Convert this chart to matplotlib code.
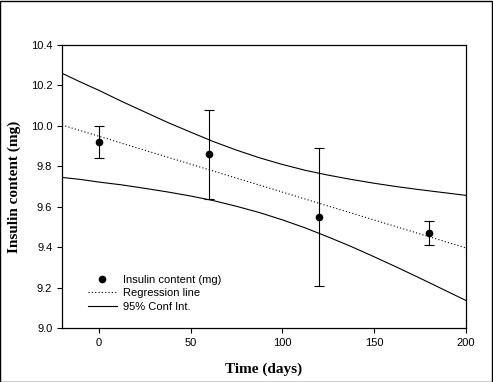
import matplotlib.pyplot as plt
from matplotlib.patches import Rectangle

# measured points (mean with error)
days = [0, 60, 120, 180]
insulin = [9.92, 9.86, 9.55, 9.47]
err_lo = [0.08, 0.22, 0.34, 0.06]
err_hi = [0.08, 0.22, 0.34, 0.06]

# regression line end points
reg_x = [-20, 200]
reg_y = [10.004, 9.396]

# 95% confidence band
ci_x = [-20, -10, 0, 12.5, 25, 37.5, 50, 62.5, 75, 87.5, 100, 112.5, 125,
        137.5, 150, 162.5, 175, 187.5, 200]
ci_upper = [10.26, 10.217, 10.176, 10.121, 10.069, 10.017, 9.969, 9.922, 9.880,
            9.842, 9.809, 9.780, 9.756, 9.735, 9.716, 9.699, 9.684, 9.670, 9.656]
ci_lower = [9.745, 9.735, 9.722, 9.708, 9.691, 9.673, 9.653, 9.630, 9.602,
            9.571, 9.535, 9.495, 9.450, 9.403, 9.352, 9.300, 9.246, 9.191, 9.136]

xticks = [0, 50, 100, 150, 200]
yticks = [9.0, 9.2, 9.4, 9.6, 9.8, 10.0, 10.2, 10.4]

fig = plt.figure(figsize=(4.93, 3.82), dpi=100)
ax = fig.add_axes([0.1258, 0.1414, 0.8195, 0.7408])

ax.errorbar(days, insulin, yerr=[err_lo, err_hi], fmt='none', ecolor='black',
            elinewidth=0.8, capsize=3.5, capthick=0.8)
ax.plot(days, insulin, 'o', color='black', markersize=4.5, label='Insulin content (mg)')
ax.plot(reg_x, reg_y, color='black', linestyle=(0, (1, 2)), linewidth=0.8, label='Regression line')
ax.plot(ci_x, ci_upper, color='black', linewidth=0.8, label='95% Conf Int.')
ax.plot(ci_x, ci_lower, color='black', linewidth=0.8)

ax.set_xlim(-20, 200)
ax.set_ylim(9.0, 10.4)
ax.set_xticks(xticks)
ax.set_yticks(yticks)
ax.set_yticklabels(['%.1f' % v for v in yticks])
ax.tick_params(direction='out', length=3.5, width=0.8, labelsize=8, top=False, right=False)
for lab in ax.get_xticklabels() + ax.get_yticklabels():
    lab.set_family('Liberation Sans')
for s in ax.spines.values():
    s.set_linewidth(0.9)

ax.set_xlabel('Time (days)', family='Liberation Serif', fontweight='bold', fontsize=11, labelpad=11)
ax.set_ylabel('Insulin content (mg)', family='Liberation Serif', fontweight='bold', fontsize=11, labelpad=7)

ax.legend(loc='lower left', bbox_to_anchor=(0.05, 0.038), frameon=False,
          prop={'family': 'Liberation Sans', 'size': 8}, handlelength=2.6,
          handletextpad=0.55, labelspacing=0.3, borderpad=0)

fig.patches.append(Rectangle((0.001, 0.001), 0.997, 0.997, transform=fig.transFigure,
                             fill=False, edgecolor='black', linewidth=1))

fig.savefig('out.png', dpi=100)
